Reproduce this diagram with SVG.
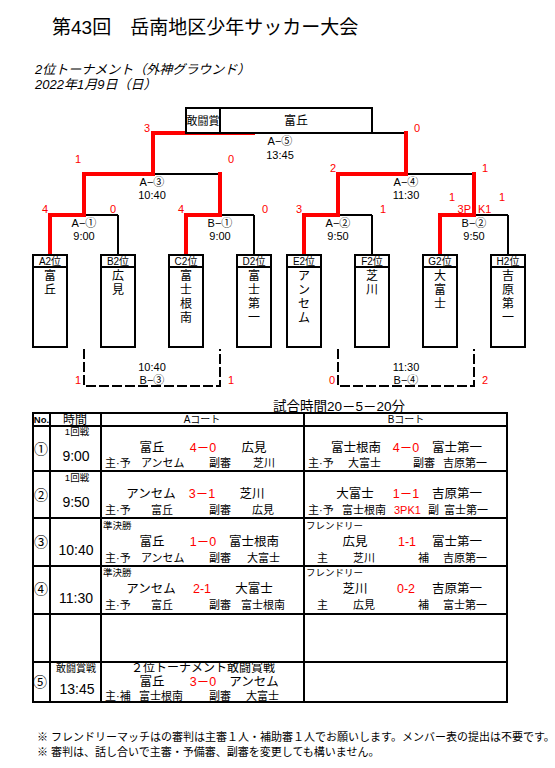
<svg xmlns="http://www.w3.org/2000/svg" width="555" height="768" viewBox="0 0 555 768">
<style>
text{font-family:"Liberation Sans","Noto Sans CJK JP",sans-serif;fill:#000}
.c{text-anchor:middle}
.r{fill:#ff0000}
.f11{font-size:11px}
.f10{font-size:10px}
.f9{font-size:9.5px}
.nm{font-size:12.5px}
.rf{font-size:11px}
.tm{font-size:14px;text-anchor:middle}
.bk{stroke:#000;stroke-width:2;fill:none}
.rd{stroke:#ff0000;stroke-width:4;fill:none;stroke-linecap:square}
.box{stroke:#000;stroke-width:2;fill:#fff}
.dash{stroke:#000;stroke-width:2;fill:none;stroke-dasharray:10 3}
.tn{font-size:12px;text-anchor:middle}
</style>
<rect width="555" height="768" fill="#fff"/>

<g id="titles">
<text x="52" y="34" style="font-size:19px">第43回　岳南地区少年サッカー大会</text>
<text x="35" y="74" style="font-size:13px;font-style:italic">2位トーナメント（外神グラウンド）</text>
<text x="35" y="89" style="font-size:13px;font-style:italic">2022年1月9日（日）</text>
</g>

<g id="connectors">
<path class="bk" d="M153 133H406M84 174H220M338 174H474M50 215H118M186 215H254M304 215H372M440 215H508"/>
<path class="bk" d="M118 215V255M254 215V255M372 215V255M508 215V255"/>
<path class="rd" d="M153 133H253M153 133V174M406 133V174M84 174H153M338 174H406M84 174V215M220 174V215M338 174V215M474 174V215M50 215H84M186 215H220M304 215H338M440 215H474M50 215V254M186 215V254M304 215V254M440 215V254"/>
<path class="dash" d="M84 349V386H220V349"/>
<path class="dash" d="M338 349V386H474V349"/>
</g>

<g id="scores" class="f11 c">
<text class="r" x="147" y="132">3</text>
<text class="r" x="417" y="132">0</text>
<text class="r" x="78" y="163">1</text>
<text class="r" x="231" y="163">0</text>
<text class="r" x="333" y="172">2</text>
<text class="r" x="485" y="172">1</text>
<text class="r" x="45" y="213">4</text>
<text class="r" x="113" y="213">0</text>
<text class="r" x="181" y="213">4</text>
<text class="r" x="265" y="213">0</text>
<text class="r" x="299" y="213">3</text>
<text class="r" x="383" y="213">1</text>
<text class="r" x="452" y="201">1</text>
<text class="r" x="502" y="201">1</text>
<text class="r" x="471" y="213" style="text-anchor:end">3P</text>
<text class="r" x="478" y="213" style="text-anchor:start">K1</text>
<text class="r" x="78" y="384">1</text>
<text class="r" x="231" y="384">1</text>
<text class="r" x="332" y="384">0</text>
<text class="r" x="485" y="384">2</text>
</g>

<g id="match-labels" class="f11 c">
<text x="280" y="145">A−⑤</text><text x="280" y="159">13:45</text>
<text x="152" y="186">A−③</text><text x="152" y="199">10:40</text>
<text x="406" y="186">A−④</text><text x="406" y="199">11:30</text>
<text x="84" y="227">A−①</text><text x="84" y="240">9:00</text>
<text x="220" y="227">B−①</text><text x="220" y="240">9:00</text>
<text x="338" y="227">A−②</text><text x="338" y="240">9:50</text>
<text x="474" y="227">B−②</text><text x="474" y="240">9:50</text>
<text x="152" y="371">10:40</text><text x="152" y="384">B−③</text>
<text x="406" y="371">11:30</text><text x="406" y="384">B−④</text>
</g>

<g id="prize-box">
<rect class="box" x="186" y="108" width="186" height="25"/>
<line class="bk" x1="220" y1="108" x2="220" y2="133"/>
<text class="c" x="203" y="125" style="font-size:11px">敢闘賞</text>
<text class="c" x="296" y="125" style="font-size:12px">富丘</text>
</g>

<g id="team-A2"><rect class="box" x="33" y="255" width="34" height="92"/><line class="bk" x1="33" y1="267" x2="67" y2="267"/><text class="c f10" x="50" y="265">A2位</text><text class="tn"><tspan x="50" y="280">富</tspan><tspan x="50" y="294">丘</tspan></text></g>
<g id="team-B2"><rect class="box" x="101" y="255" width="34" height="92"/><line class="bk" x1="101" y1="267" x2="135" y2="267"/><text class="c f10" x="118" y="265">B2位</text><text class="tn"><tspan x="118" y="280">広</tspan><tspan x="118" y="294">見</tspan></text></g>
<g id="team-C2"><rect class="box" x="169" y="255" width="34" height="92"/><line class="bk" x1="169" y1="267" x2="203" y2="267"/><text class="c f10" x="186" y="265">C2位</text><text class="tn"><tspan x="186" y="280">富</tspan><tspan x="186" y="294">士</tspan><tspan x="186" y="308">根</tspan><tspan x="186" y="322">南</tspan></text></g>
<g id="team-D2"><rect class="box" x="237" y="255" width="34" height="92"/><line class="bk" x1="237" y1="267" x2="271" y2="267"/><text class="c f10" x="254" y="265">D2位</text><text class="tn"><tspan x="254" y="280">富</tspan><tspan x="254" y="294">士</tspan><tspan x="254" y="308">第</tspan><tspan x="254" y="322">一</tspan></text></g>
<g id="team-E2"><rect class="box" x="287" y="255" width="34" height="92"/><line class="bk" x1="287" y1="267" x2="321" y2="267"/><text class="c f10" x="304" y="265">E2位</text><text class="tn"><tspan x="304" y="280">ア</tspan><tspan x="304" y="294">ン</tspan><tspan x="304" y="308">セ</tspan><tspan x="304" y="322">ム</tspan></text></g>
<g id="team-F2"><rect class="box" x="355" y="255" width="34" height="92"/><line class="bk" x1="355" y1="267" x2="389" y2="267"/><text class="c f10" x="372" y="265">F2位</text><text class="tn"><tspan x="372" y="280">芝</tspan><tspan x="372" y="294">川</tspan></text></g>
<g id="team-G2"><rect class="box" x="423" y="255" width="34" height="92"/><line class="bk" x1="423" y1="267" x2="457" y2="267"/><text class="c f10" x="440" y="265">G2位</text><text class="tn"><tspan x="440" y="280">大</tspan><tspan x="440" y="294">富</tspan><tspan x="440" y="308">士</tspan></text></g>
<g id="team-H2"><rect class="box" x="491" y="255" width="34" height="92"/><line class="bk" x1="491" y1="267" x2="525" y2="267"/><text class="c f10" x="508" y="265">H2位</text><text class="tn"><tspan x="508" y="280">吉</tspan><tspan x="508" y="294">原</tspan><tspan x="508" y="308">第</tspan><tspan x="508" y="322">一</tspan></text></g>

<g id="schedule-table">
<text x="273" y="410.5" style="font-size:13.5px">試合時間20－5－20分</text>
<rect class="bk" x="33" y="413" width="474" height="289"/>
<path class="bk" d="M50 413V702M101 413V702M304 413V702M33 426H507M33 471H507M33 518H507M33 566H507M33 614H507M33 662H507"/>
<text class="c" x="41.5" y="423" style="font-size:9.5px;font-weight:bold">No.</text>
<text class="c" x="75" y="424" style="font-size:12px">時間</text>
<text class="c f10" x="202" y="423">Aコート</text>
<text class="c f10" x="406" y="423">Bコート</text>

<g id="row1">
<text class="tm" x="41" y="454">①</text>
<text class="c f9" x="77" y="435">1回戦</text>
<text class="tm" x="76" y="461">9:00</text>
<text class="nm c" x="152" y="452">富丘</text><text class="nm c r" x="203" y="452">4－0</text><text class="nm c" x="254" y="452">広見</text>
<text class="rf" x="105" y="467">主·予</text><text class="rf" x="141" y="467">アンセム</text><text class="rf" x="209" y="467">副審</text><text class="rf" x="253" y="467">芝川</text>
<text class="nm c" x="356" y="452">富士根南</text><text class="nm c r" x="406" y="452">4－0</text><text class="nm c" x="457" y="452">富士第一</text>
<text class="rf" x="308" y="467">主·予</text><text class="rf" x="348" y="467">大富士</text><text class="rf" x="413" y="467">副審</text><text class="rf" x="443" y="467">吉原第一</text>
</g>

<g id="row2">
<text class="tm" x="41" y="500">②</text>
<text class="c f9" x="77" y="481">1回戦</text>
<text class="tm" x="76" y="507">9:50</text>
<text class="nm c" x="151" y="498">アンセム</text><text class="nm c r" x="202" y="498">3－1</text><text class="nm c" x="252" y="498">芝川</text>
<text class="rf" x="105" y="514">主·予</text><text class="rf" x="151" y="514">富丘</text><text class="rf" x="209" y="514">副審</text><text class="rf" x="252" y="514">広見</text>
<text class="nm c" x="355" y="498">大富士</text><text class="nm c r" x="406" y="498">1－1</text><text class="nm c" x="457" y="498">吉原第一</text>
<text class="rf" x="308" y="514">主·予</text><text class="rf" x="342" y="514">富士根南</text><text class="rf r" x="394" y="514">3PK1</text><text class="rf" x="428" y="514">副</text><text class="rf" x="444" y="514">富士第一</text>
</g>

<g id="row3">
<text class="tm" x="41" y="547">③</text>
<text class="tm" x="76" y="555">10:40</text>
<text class="f9" x="103" y="529">準決勝</text>
<text class="nm c" x="152" y="546">富丘</text><text class="nm c r" x="203" y="546">1－0</text><text class="nm c" x="254" y="546">富士根南</text>
<text class="rf" x="105" y="562">主·予</text><text class="rf" x="141" y="562">アンセム</text><text class="rf" x="209" y="562">副審</text><text class="rf" x="247" y="562">大富士</text>
<text class="f9" x="306" y="529">フレンドリー</text>
<text class="nm c" x="355" y="546">広見</text><text class="nm c r" x="407" y="546">1-1</text><text class="nm c" x="457" y="546">富士第一</text>
<text class="rf" x="317" y="562">主</text><text class="rf" x="353" y="562">芝川</text><text class="rf" x="418" y="562">補</text><text class="rf" x="443" y="562">吉原第一</text>
</g>

<g id="row4">
<text class="tm" x="41" y="594">④</text>
<text class="tm" x="76" y="603">11:30</text>
<text class="f9" x="103" y="576">準決勝</text>
<text class="nm c" x="151" y="593">アンセム</text><text class="nm c r" x="202" y="593">2-1</text><text class="nm c" x="254" y="593">大富士</text>
<text class="rf" x="105" y="609">主·予</text><text class="rf" x="151" y="609">富丘</text><text class="rf" x="209" y="609">副審</text><text class="rf" x="241" y="609">富士根南</text>
<text class="f9" x="306" y="576">フレンドリー</text>
<text class="nm c" x="355" y="593">芝川</text><text class="nm c r" x="406" y="593">0-2</text><text class="nm c" x="457" y="593">吉原第一</text>
<text class="rf" x="317" y="609">主</text><text class="rf" x="353" y="609">広見</text><text class="rf" x="418" y="609">補</text><text class="rf" x="443" y="609">富士第一</text>
</g>

<g id="row6">
<text class="tm" x="40" y="687">⑤</text>
<text class="c f10" x="76" y="672">敢闘賞戦</text>
<text class="tm" x="77" y="694">13:45</text>
<text class="c" x="203" y="672" style="font-size:12px">２位トーナメント敢闘賞戦</text>
<text class="nm c" x="152" y="686">富丘</text><text class="nm c r" x="203" y="686">3－0</text><text class="nm c" x="254" y="686">アンセム</text>
<text class="rf" x="105" y="700">主·補</text><text class="rf" x="139" y="700">富士根南</text><text class="rf" x="209" y="700">副審</text><text class="rf" x="246" y="700">大富士</text>
</g>
</g>

<g id="notes" class="f11">
<text x="37" y="741">※ フレンドリーマッチはの審判は主審１人・補助審１人でお願いします。メンバー表の提出は不要です。</text>
<text x="37" y="756">※ 審判は、話し合いで主審・予備審、副審を変更しても構いません。</text>
</g>
</svg>
